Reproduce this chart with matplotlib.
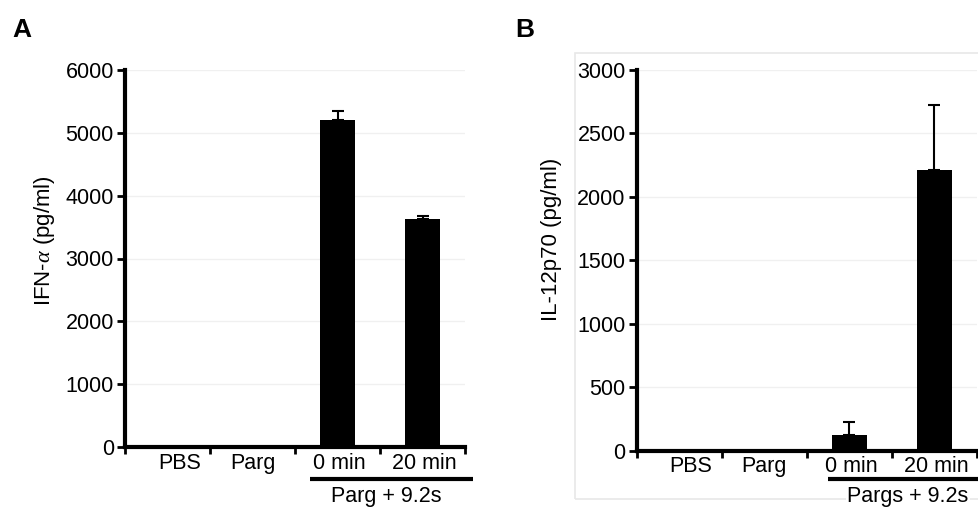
"""Cytokine bar charts, panels A and B"""

import matplotlib
matplotlib.use('Agg')
import matplotlib.pyplot as plt
from matplotlib.patches import Rectangle
from matplotlib.transforms import blended_transform_factory

plt.rcParams['font.family'] = ['Liberation Sans', 'DejaVu Sans']
plt.rcParams['mathtext.fontset'] = 'custom'
plt.rcParams['mathtext.it'] = 'Liberation Serif:italic'

categories = ['PBS', 'Parg', '0 min', '20 min']

ifn_values = [0, 0, 5200, 3630]
ifn_err = [0, 0, 140, 50]
ifn_ticks = [0, 1000, 2000, 3000, 4000, 5000, 6000]

il12_values = [0, 0, 120, 2210]
il12_err = [0, 0, 105, 510]
il12_ticks = [0, 500, 1000, 1500, 2000, 2500, 3000]

W, H = 979, 508
fig = plt.figure(figsize=(W / 100, H / 100), dpi=100)


def px_axes(x0, x1, ytop, ybot):
    return fig.add_axes((x0 / W, 1 - ybot / H, (x1 - x0) / W, (ybot - ytop) / H))


def draw_panel(ax, values, err, yticks, ylabel, group_label, ypx_axis, lab_px, grp_px, bracket_x0):
    xs = [i + 0.5 for i in range(len(categories))]
    ax.bar(xs, values, width=0.41, color='black', zorder=3)
    for x, v, e in zip(xs, values, err):
        if e > 0:
            ax.errorbar(x, v, yerr=[[0], [e]], fmt='none', ecolor='black',
                        elinewidth=1.5, capsize=4, capthick=1.5, zorder=2)
    ax.set_xlim(0, 4)
    ax.set_ylim(0, yticks[-1])
    ax.set_yticks(yticks)
    ax.yaxis.grid(True, color='#f0f0f0', linewidth=1, zorder=0)
    ax.set_axisbelow(True)
    ax.patch.set_alpha(0)
    for s in ['top', 'right']:
        ax.spines[s].set_visible(False)
    for s in ['left', 'bottom']:
        ax.spines[s].set_linewidth(3)
    ax.tick_params(axis='y', labelsize=15.5, length=6, width=2, pad=2, direction='out')
    ax.set_xticks([0, 1, 2, 3, 4])
    ax.set_xticklabels([])
    ax.tick_params(axis='x', length=5, width=2, direction='out')
    # category labels below the axis
    tr = blended_transform_factory(ax.transData, fig.transFigure)
    offs = [0.14, 0.0, 0.02, 0.02]
    for x, c, o in zip(xs, categories, offs):
        ax.text(x + o, 1 - lab_px / H, c, transform=tr, ha='center', va='baseline',
                fontsize=15.5)
    # group bracket
    ax.plot([bracket_x0, 4.1], [1 - 479 / H] * 2, transform=tr, color='black',
            linewidth=3, clip_on=False, solid_capstyle='butt')
    ax.text(grp_px[0] / W, 1 - grp_px[1] / H, group_label, transform=fig.transFigure,
            ha='center', va='baseline', fontsize=15.5,
            bbox=dict(facecolor='white', edgecolor='none', pad=1))
    fig.text(ypx_axis[0] / W, 1 - ypx_axis[1] / H, ylabel, rotation=90,
             ha='center', va='center', fontsize=16)


# panel B frame
fig.patches.append(Rectangle((575 / W, 1 - 499 / H), 420 / W, 446 / H,
                             transform=fig.transFigure, fill=False,
                             edgecolor='#e8e8e8', linewidth=1.2, zorder=-1))

axA = px_axes(125, 465, 70, 447)
draw_panel(axA, ifn_values, ifn_err, ifn_ticks, r'IFN-$\alpha$ (pg/ml)',
           'Parg + 9.2s', (45, 241), 469, (386, 502), 2.18)

axB = px_axes(636.7, 976.7, 69.5, 450.7)
draw_panel(axB, il12_values, il12_err, il12_ticks, 'IL-12p70 (pg/ml)',
           'Pargs + 9.2s', (552, 239), 472, (908, 502), 2.25)

fig.text(12 / W, 1 - 37 / H, 'A', fontsize=19, fontweight='bold', ha='left', va='baseline')
fig.text(515 / W, 1 - 37 / H, 'B', fontsize=19, fontweight='bold', ha='left', va='baseline')

plt.savefig('out.png', dpi=100)
